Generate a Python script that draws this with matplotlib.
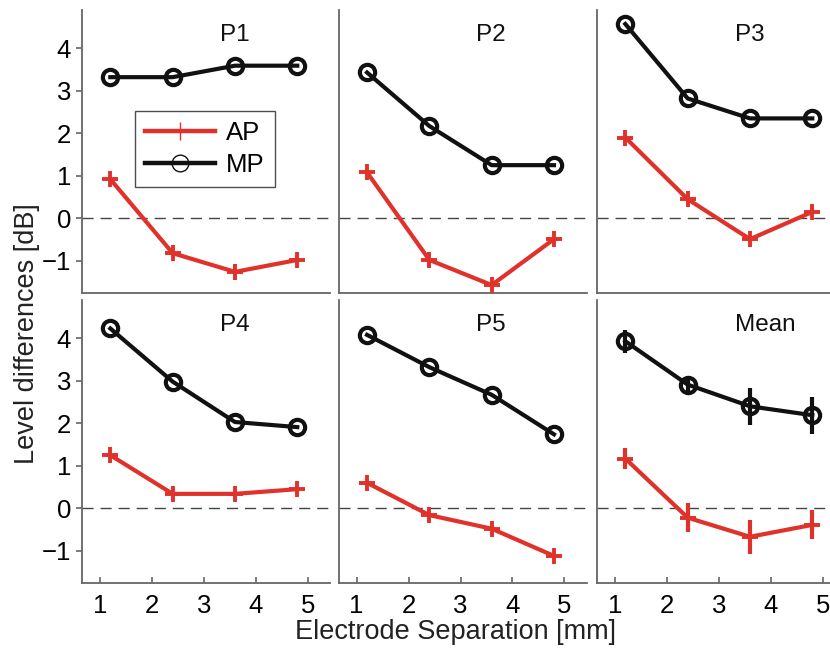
import matplotlib
matplotlib.use("Agg")
import matplotlib.pyplot as plt
from matplotlib.lines import Line2D

plt.rcParams['font.family'] = ['Liberation Sans', 'DejaVu Sans']

# ---- data ----
separation = [1.2, 2.4, 3.6, 4.8]
panel_titles = ["P1", "P2", "P3", "P4", "P5", "Mean"]
ap_values = [
    [0.92, -0.82, -1.26, -0.98],
    [1.08, -0.98, -1.57, -0.49],
    [1.90, 0.45, -0.49, 0.15],
    [1.25, 0.34, 0.34, 0.45],
    [0.60, -0.16, -0.48, -1.12],
    [1.17, -0.22, -0.67, -0.39],
]
mp_values = [
    [3.32, 3.32, 3.59, 3.59],
    [3.43, 2.17, 1.25, 1.25],
    [4.57, 2.82, 2.35, 2.35],
    [4.23, 2.98, 2.03, 1.91],
    [4.08, 3.32, 2.67, 1.74],
    [3.93, 2.91, 2.40, 2.19],
]
mean_ap_err = [0.25, 0.34, 0.40, 0.34]
mean_mp_err = [0.27, 0.19, 0.44, 0.44]
xticks = [1, 2, 3, 4, 5]
yticks = [-1, 0, 1, 2, 3, 4]

RED = '#e0322a'
BLACK = '#111111'
SPINE = '#666666'

W, H = 830, 649
fig = plt.figure(figsize=(W / 100, H / 100), dpi=100)

col_left = [82.3, 339.0, 597.3]
row_top = [10.0, 300.0]
aw, ah = 247.7, 282.7

axes = []
for i in range(6):
    r, c = divmod(i, 3)
    left = col_left[c] / W
    bottom = (H - (row_top[r] + ah)) / H
    ax = fig.add_axes([left, bottom, aw / W, ah / H])
    axes.append(ax)
    ax.set_xlim(0.66, 5.43)
    ax.set_ylim(-1.75, 4.9)
    for s in ['top', 'right']:
        ax.spines[s].set_visible(False)
    for s in ['left', 'bottom']:
        ax.spines[s].set_color(SPINE)
        ax.spines[s].set_linewidth(1.3)
    ax.axhline(0, color='#444444', lw=1.0, dashes=(8, 5), zorder=1)

    if i == 5:
        ax.errorbar(separation, ap_values[i], yerr=mean_ap_err, color=RED, lw=3,
                    marker='+', ms=12, mew=2.8, elinewidth=3, capsize=0, zorder=3)
        ax.errorbar(separation, mp_values[i], yerr=mean_mp_err, color=BLACK, lw=3,
                    marker='o', ms=11, mew=3, mfc='none', elinewidth=3, capsize=0, zorder=3)
    else:
        ax.plot(separation, ap_values[i], color=RED, lw=3, marker='+', ms=12, mew=2.8, zorder=3)
        ax.plot(separation, mp_values[i], color=BLACK, lw=3, marker='o', ms=11, mew=3,
                mfc='none', zorder=3)

    ax.text(0.555, 0.912, panel_titles[i], transform=ax.transAxes, ha='left', va='center',
            fontsize=17.5, color='#111111')

    ax.set_xticks(xticks)
    ax.set_yticks(yticks)
    ax.set_yticklabels(['\u22121' if v == -1 else str(v) for v in yticks])
    ax.tick_params(axis='x', direction='in', length=4, width=1.2, color=SPINE,
                   labelsize=18.5, pad=8)
    ax.tick_params(axis='y', direction='out', length=4, width=1.2, color=SPINE,
                   labelsize=18.5, pad=4)
    if r == 0:
        ax.tick_params(axis='x', bottom=False, labelbottom=False)
    if c != 0:
        ax.tick_params(axis='y', left=False, labelleft=False)

handles = [
    Line2D([], [], color=RED, lw=3.2, marker='+', ms=13, mew=1.0),
    Line2D([], [], color=BLACK, lw=3.2, marker='o', ms=12, mew=1.0, mfc='none'),
]
leg = axes[0].legend(handles, ['AP', 'MP'], loc='upper left', bbox_to_anchor=(0.213, 0.643),
                     frameon=True, fancybox=False, edgecolor='#222222', fontsize=18.5,
                     handlelength=2.7, handletextpad=0.45, borderpad=0.4, labelspacing=0.3,
                     borderaxespad=0)
leg.get_frame().set_linewidth(1.0)

fig.text(455 / W, 1 - 632 / H, 'Electrode Separation [mm]', ha='center', va='center',
         fontsize=19.5, color='#222222')
fig.text(27 / W, 1 - 334 / H, 'Level differences [dB]', ha='center', va='center',
         rotation=90, fontsize=19.5, color='#222222')

fig.savefig('out.png', dpi=100)
